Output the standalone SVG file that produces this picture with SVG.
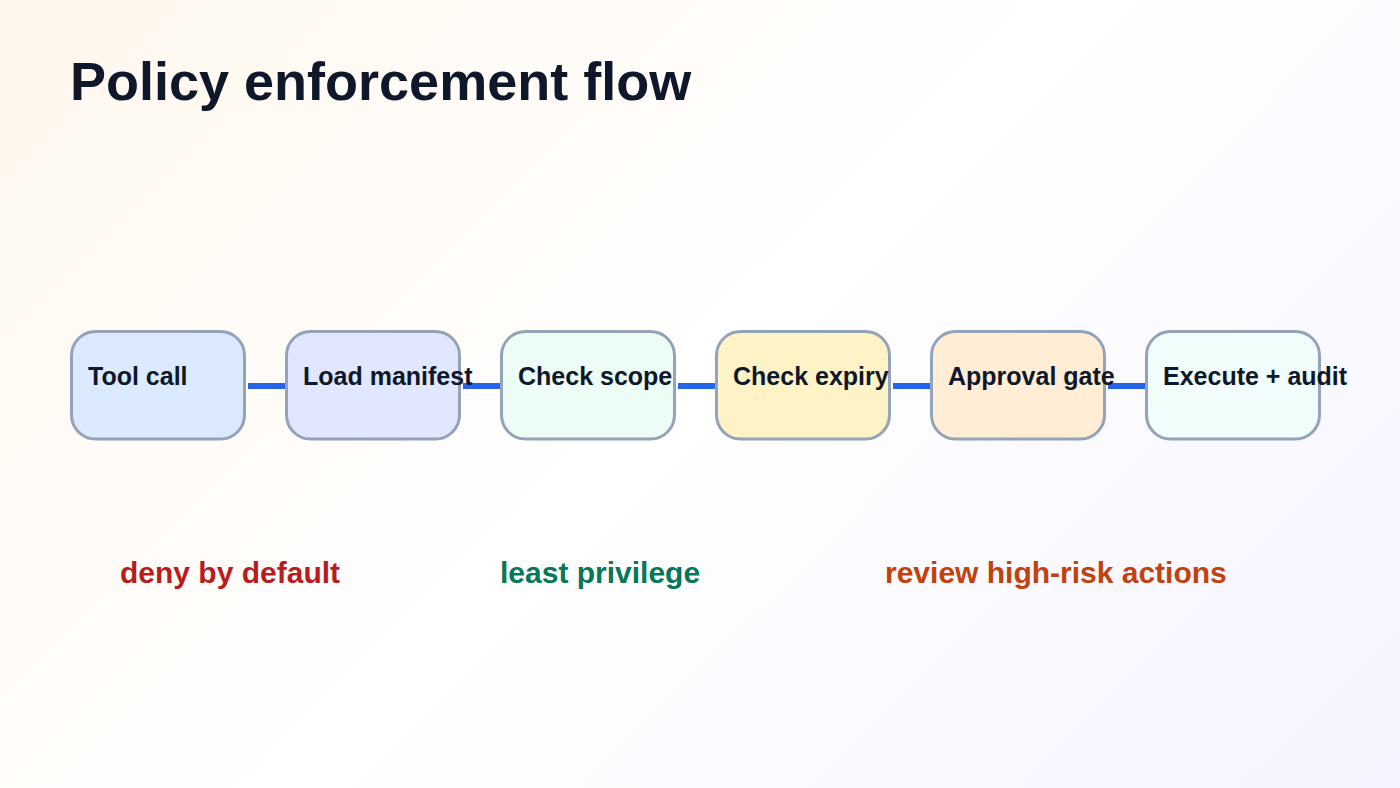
<svg xmlns="http://www.w3.org/2000/svg" width="1400" height="788" viewBox="0 0 1400 788">
<style>
text{font-family:"Liberation Sans",Arial,sans-serif;font-weight:700}
.title{font-size:54px;fill:#0f172a}
.label{font-size:25px;fill:#0f172a}
.note{font-size:30px}
.box{stroke:#94a3b8;stroke-width:3}
.wire{stroke:#2563eb;stroke-width:6;fill:none}
</style>
<defs><linearGradient id="bg" gradientUnits="userSpaceOnUse" x1="153" y1="-153" x2="1247" y2="941"><stop offset="0" stop-color="#fff7ed"/><stop offset=".5" stop-color="#ffffff"/><stop offset="1" stop-color="#f5f3ff"/></linearGradient></defs>
<rect width="1400" height="788" fill="url(#bg)"/>
<text class="title" x="70" y="100">Policy enforcement flow</text>
<g id="connectors">
<line class="wire" x1="248" y1="386" x2="288" y2="386"/>
<line class="wire" x1="463" y1="386" x2="503" y2="386"/>
<line class="wire" x1="678" y1="386" x2="718" y2="386"/>
<line class="wire" x1="893" y1="386" x2="933" y2="386"/>
<line class="wire" x1="1108" y1="386" x2="1148" y2="386"/>
</g>
<g id="n1"><rect class="box" x="71.5" y="331.5" width="173" height="107.5" rx="24" fill="#dbeafe"/><text class="label" x="88" y="385">Tool call</text></g>
<g id="n2"><rect class="box" x="286.5" y="331.5" width="173" height="107.5" rx="24" fill="#e0e7ff"/><text class="label" x="303" y="385">Load manifest</text></g>
<g id="n3"><rect class="box" x="501.5" y="331.5" width="173" height="107.5" rx="24" fill="#ecfdf5"/><text class="label" x="518" y="385">Check scope</text></g>
<g id="n4"><rect class="box" x="716.5" y="331.5" width="173" height="107.5" rx="24" fill="#fef3c7"/><text class="label" x="733" y="385">Check expiry</text></g>
<g id="n5"><rect class="box" x="931.5" y="331.5" width="173" height="107.5" rx="24" fill="#ffedd5"/><text class="label" x="948" y="385">Approval gate</text></g>
<g id="n6"><rect class="box" x="1146.5" y="331.5" width="173" height="107.5" rx="24" fill="#f0fdfa"/><text class="label" x="1163" y="385">Execute + audit</text></g>
<text class="note" x="120" y="583" fill="#b91c1c">deny by default</text>
<text class="note" x="500" y="583" fill="#047857">least privilege</text>
<text class="note" x="885" y="583" fill="#c2410c">review high-risk actions</text>
</svg>
